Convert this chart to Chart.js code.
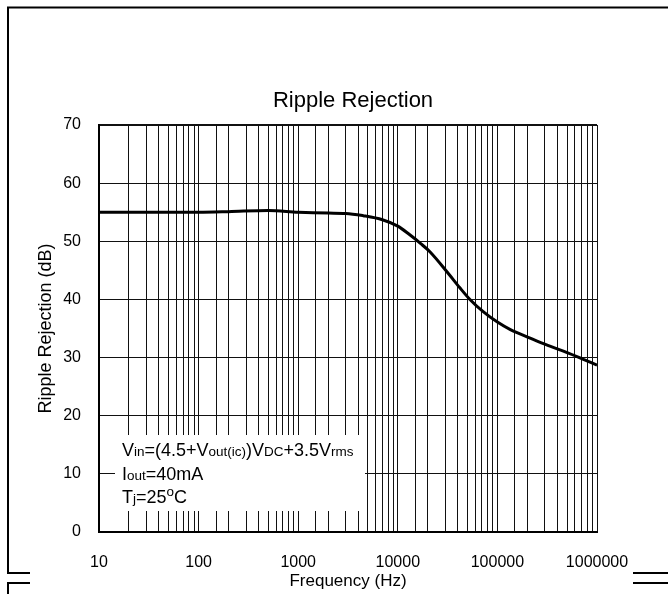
<!DOCTYPE html>
<html>
<head>
<meta charset="utf-8">
<script src="https://cdn.jsdelivr.net/npm/chart.js@4/dist/chart.umd.min.js"></script>
<style>
  html, body { margin: 0; padding: 0; background: #fff; }
  #wrap { width: 668px; height: 594px; }
</style>
</head>
<body>
<div id="wrap"><canvas id="ripple" width="668" height="594"></canvas></div>
<script>
// values
const freqHz = [10, 20, 50, 100, 200, 500, 1000, 2000, 3000, 4500, 7000, 10000,
  13000, 17000, 21000, 31000, 42000, 53000, 72000, 100000, 135000, 210000,
  290000, 460000, 730000, 1000000];
const rejectionDb = [55.0, 55.0, 55.0, 55.0, 55.1, 55.3, 55.0, 54.85, 54.8, 54.4, 53.7, 52.6,
  51.2, 49.6, 48.2, 44.8, 42.0, 40.0, 37.9, 36.1, 34.8, 33.4,
  32.4, 31.1, 29.7, 28.7];
const yTicks = [0, 10, 20, 30, 40, 50, 60, 70];
const chartTitle = "Ripple Rejection";
const noteLines = [
  [["V", "b"], ["in", "s"], ["=(4.5+", "b"], ["V", "b"], ["out(ic)", "s"], [")", "b"], ["V", "b"], ["DC", "s"], ["+3.5", "b"], ["V", "b"], ["rms", "s"]],
  [["I", "b"], ["out", "s"], ["=40mA", "b"]],
  [["T", "b"], ["j", "s"], ["=25", "b"], ["o", "sup"], ["C", "b"]]
];

const FONT = "'Liberation Sans', Arial, sans-serif";

// page frame, title and note box
const decorPlugin = {
  id: "decor",
  beforeDraw(chart) {
    const c = chart.ctx;
    c.save();
    c.fillStyle = "#fff";
    c.fillRect(0, 0, chart.width, chart.height);
    c.strokeStyle = "#000";
    c.lineWidth = 2;
    c.beginPath();
    c.moveTo(8, 594); c.lineTo(8, 583); c.lineTo(30, 583);
    c.moveTo(30, 573); c.lineTo(8, 573); c.lineTo(8, 7.5); c.lineTo(668, 7.5);
    c.moveTo(633, 573); c.lineTo(668, 573);
    c.moveTo(633, 583); c.lineTo(668, 583);
    c.stroke();

    c.fillStyle = "#000";
    c.font = "22px " + FONT;
    c.textAlign = "center";
    c.textBaseline = "alphabetic";
    c.fillText(chartTitle, 353, 107);
    c.restore();
  },
  afterDatasetsDraw(chart) {
    const c = chart.ctx;
    c.save();
    c.fillStyle = "#fff";
    c.fillRect(115, 435, 250, 76);
    c.fillStyle = "#000";
    c.textBaseline = "alphabetic";
    const base = [456, 480, 503];
    noteLines.forEach((parts, i) => {
      let x = 122;
      parts.forEach(([txt, kind]) => {
        const size = kind === "b" ? 18 : 13.5;
        c.font = size + "px " + FONT;
        const y = kind === "sup" ? base[i] - 7 : base[i];
        c.fillText(txt, x, y);
        x += c.measureText(txt).width;
      });
    });
    c.restore();
  }
};

new Chart(document.getElementById("ripple"), {
  type: "line",
  data: {
    datasets: [{
      data: freqHz.map((f, i) => ({ x: f, y: rejectionDb[i] })),
      borderColor: "#000",
      borderWidth: 3,
      pointRadius: 0,
      cubicInterpolationMode: "monotone",
      fill: false
    }]
  },
  options: {
    responsive: false,
    animation: false,
    events: [],
    layout: { padding: { left: 0, right: 71, top: 125, bottom: 0 } },
    plugins: {
      legend: { display: false },
      tooltip: { enabled: false },
      title: { display: false }
    },
    scales: {
      x: {
        type: "logarithmic",
        min: 10,
        max: 1000000,
        afterFit: (s) => { s.height = 62; },
        border: { display: true, color: "#000", width: 2 },
        grid: {
          color: "#111",
          lineWidth: 1,
          drawTicks: false
        },
        ticks: {
          autoSkip: false,
          maxRotation: 0,
          padding: 21,
          color: "#000",
          font: { family: FONT, size: 16 },
          callback: (v) => {
            const l = Math.log10(v);
            return Math.abs(l - Math.round(l)) < 1e-9 ? String(v) : "";
          }
        },
        title: {
          display: true,
          text: "Frequency (Hz)",
          color: "#000",
          font: { family: FONT, size: 17 },
          padding: { top: 0, bottom: 2 }
        }
      },
      y: {
        min: 0,
        max: 70,
        afterFit: (s) => { s.width = 99; },
        afterBuildTicks: (s) => { s.ticks = yTicks.map((v) => ({ value: v })); },
        border: { display: true, color: "#000", width: 2 },
        grid: {
          color: "#111",
          lineWidth: (ctx) => (ctx.tick && ctx.tick.value === 70 ? 2 : 1),
          drawTicks: false
        },
        ticks: {
          padding: 18,
          color: "#000",
          font: { family: FONT, size: 16 }
        },
        title: {
          display: true,
          text: "Ripple Rejection (dB)",
          color: "#000",
          font: { family: FONT, size: 18 },
          padding: { top: 35, bottom: 0 }
        }
      }
    }
  },
  plugins: [decorPlugin]
});
</script>
</body>
</html>
